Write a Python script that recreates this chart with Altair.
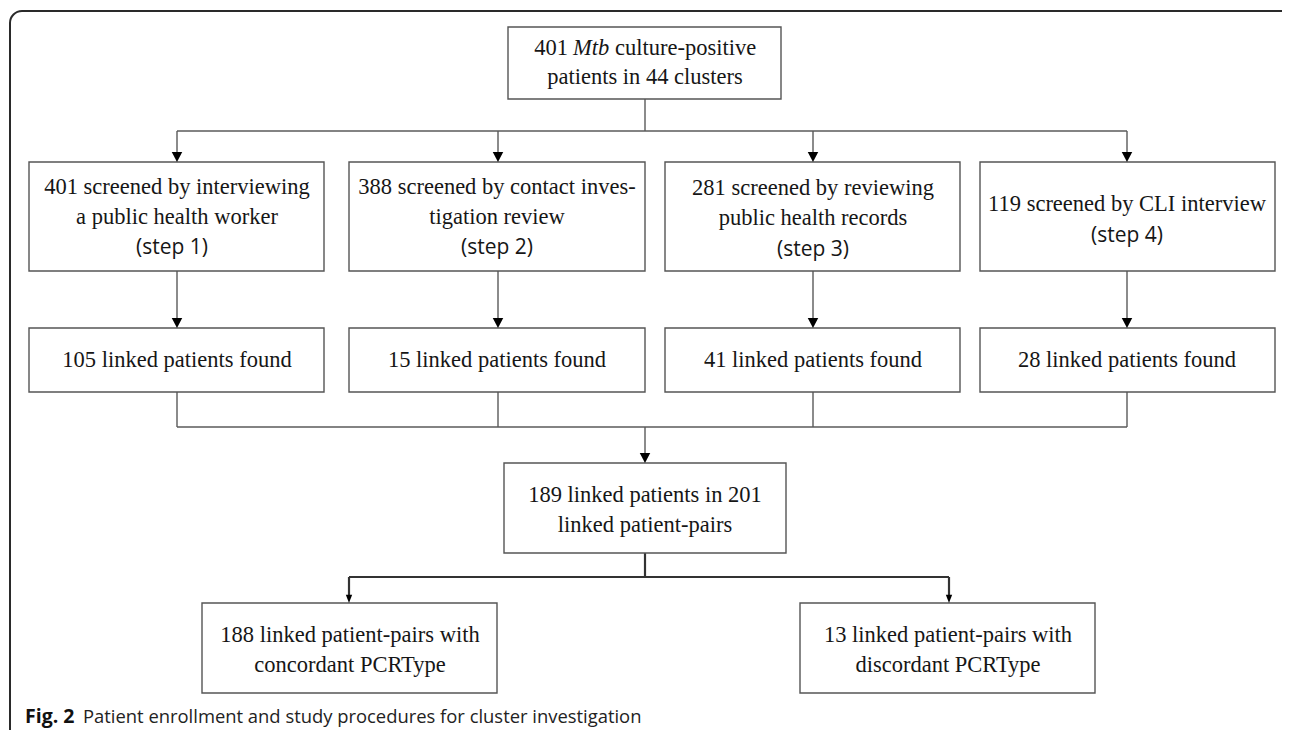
import altair as alt
import pandas as pd

# ---- content ----
box_x1 = [508, 29, 349, 665, 980, 29, 349, 665, 980, 504, 202, 800]
box_x2 = [781, 324, 645, 960, 1275, 324, 645, 960, 1275, 786, 497, 1095]
box_y1 = [27, 162, 162, 162, 162, 328, 328, 328, 328, 463, 603, 603]
box_y2 = [99, 271, 271, 271, 271, 392, 392, 392, 392, 553, 693, 693]

serif_text = [
    "patients in 44 clusters",
    "401 screened by interviewing", "a public health worker",
    "388 screened by contact inves-", "tigation review",
    "281 screened by reviewing", "public health records",
    "119 screened by CLI interview",
    "105 linked patients found", "15 linked patients found",
    "41 linked patients found", "28 linked patients found",
    "189 linked patients in 201", "linked patient-pairs",
    "188 linked patient-pairs with", "concordant PCRType",
    "13 linked patient-pairs with", "discordant PCRType",
]
serif_x = [645, 177, 177, 497, 497, 813, 813, 1127,
           177, 497, 813, 1127, 645, 645, 350, 350, 948, 948]
serif_y = [77, 187, 217, 187, 217, 188, 218, 204,
           360, 360, 360, 360, 495, 525, 635, 665, 635, 665]

step_text = ["(step 1)", "(step 2)", "(step 3)", "(step 4)"]
step_x = [172, 497, 813, 1127]
step_y = [248, 248, 250, 236]

# thin connector segments (x1, y1, x2, y2)
thin_x1 = [645, 177, 177, 498, 813, 1127, 177, 498, 813, 1127,
           177, 498, 813, 1127, 177, 645]
thin_y1 = [99, 131, 131, 131, 131, 131, 271, 271, 271, 271,
           392, 392, 392, 392, 427, 427]
thin_x2 = [645, 1127, 177, 498, 813, 1127, 177, 498, 813, 1127,
           177, 498, 813, 1127, 1127, 645]
thin_y2 = [131, 131, 155, 155, 155, 155, 320, 320, 320, 320,
           427, 427, 427, 427, 427, 455]
# thick connector segments
thick_x1 = [645, 349, 349, 949]
thick_y1 = [553, 577, 577, 577]
thick_x2 = [645, 949, 349, 949]
thick_y2 = [577, 577, 597, 597]

big_arrow_x = [177, 498, 813, 1127, 177, 498, 813, 1127, 645]
big_arrow_y = [162, 162, 162, 162, 328, 328, 328, 328, 463]
small_arrow_x = [349, 949]
small_arrow_y = [603, 603]

cap_bold = "Fig. 2"
cap_rest = "Patient enrollment and study procedures for cluster investigation"

# ---- tables ----
boxes = pd.DataFrame({"x": box_x1, "x2": box_x2, "y": box_y1, "y2": box_y2})
serif = pd.DataFrame({"t": serif_text, "x": serif_x, "y": serif_y})
steps = pd.DataFrame({"t": step_text, "x": step_x, "y": step_y})
thin = pd.DataFrame({"x": thin_x1, "y": thin_y1, "x2": thin_x2, "y2": thin_y2})
thick = pd.DataFrame({"x": thick_x1, "y": thick_y1, "x2": thick_x2, "y2": thick_y2})
big_arrows = pd.DataFrame({"x": big_arrow_x, "y": big_arrow_y})
small_arrows = pd.DataFrame({"x": small_arrow_x, "y": small_arrow_y})
frame = pd.DataFrame({"x": [10], "x2": [1320], "y": [11], "y2": [770]})
top_l = pd.DataFrame({"t": ["401"], "x": [568], "y": [48]})
top_i = pd.DataFrame({"t": ["Mtb"], "x": [573], "y": [48]})
top_r = pd.DataFrame({"t": ["culture-positive"], "x": [615], "y": [48]})
cap_b = pd.DataFrame({"t": [cap_bold], "x": [25], "y": [717]})
cap_r = pd.DataFrame({"t": [cap_rest], "x": [83], "y": [717]})

X = alt.X("x:Q", scale=alt.Scale(domain=[8, 1282]), axis=None)
Y = alt.Y("y:Q", scale=alt.Scale(domain=[8, 730], reverse=True), axis=None)

SERIF = "Liberation Serif"
SANS = "Open Sans"
TXT = "#161616"

frame_l = alt.Chart(frame).mark_rect(
    filled=False, stroke="#2a2a2a", strokeWidth=2, cornerRadius=12
).encode(x=X, x2="x2:Q", y=Y, y2="y2:Q")

boxes_l = alt.Chart(boxes).mark_rect(
    filled=False, stroke="#555555", strokeWidth=1.4
).encode(x=X, x2="x2:Q", y=Y, y2="y2:Q")

thin_l = alt.Chart(thin).mark_rule(color="#5a5a5a", strokeWidth=1.4).encode(
    x=X, x2="x2:Q", y=Y, y2="y2:Q")
thick_l = alt.Chart(thick).mark_rule(color="#333333", strokeWidth=2.2).encode(
    x=X, x2="x2:Q", y=Y, y2="y2:Q")

big_l = alt.Chart(big_arrows).mark_point(
    shape="M-1,-1.9L1,-1.9L0,0Z", size=110, filled=True, color="#000000", opacity=1
).encode(x=X, y=Y)
small_l = alt.Chart(small_arrows).mark_point(
    shape="M-1,-2.6L1,-2.6L0,0Z", size=40, filled=True, color="#000000", opacity=1
).encode(x=X, y=Y)

serif_l = alt.Chart(serif).mark_text(
    font=SERIF, fontSize=22.5, color=TXT, align="center", baseline="middle"
).encode(x=X, y=Y, text="t:N")
steps_l = alt.Chart(steps).mark_text(
    font=SANS, fontSize=21, color=TXT, align="center", baseline="middle"
).encode(x=X, y=Y, text="t:N")

topl_l = alt.Chart(top_l).mark_text(
    font=SERIF, fontSize=22.5, color=TXT, align="right", baseline="middle"
).encode(x=X, y=Y, text="t:N")
topi_l = alt.Chart(top_i).mark_text(
    font=SERIF, fontSize=22.5, fontStyle="italic", color=TXT, align="left", baseline="middle"
).encode(x=X, y=Y, text="t:N")
topr_l = alt.Chart(top_r).mark_text(
    font=SERIF, fontSize=22.5, color=TXT, align="left", baseline="middle"
).encode(x=X, y=Y, text="t:N")

capb_l = alt.Chart(cap_b).mark_text(
    font=SANS, fontSize=19.5, fontWeight="bold", color="#111111", align="left", baseline="middle"
).encode(x=X, y=Y, text="t:N")
capr_l = alt.Chart(cap_r).mark_text(
    font=SANS, fontSize=18.4, color="#222222", align="left", baseline="middle"
).encode(x=X, y=Y, text="t:N")

chart = alt.layer(
    frame_l, thin_l, thick_l, boxes_l, big_l, small_l,
    serif_l, steps_l, topl_l, topi_l, topr_l, capb_l, capr_l
).properties(
    width=1274, height=722, autosize=alt.AutoSizeParams(type="none"), padding=0
).configure_view(stroke=None)

chart.save("out.html", embed_options={"renderer": "svg", "actions": False})
